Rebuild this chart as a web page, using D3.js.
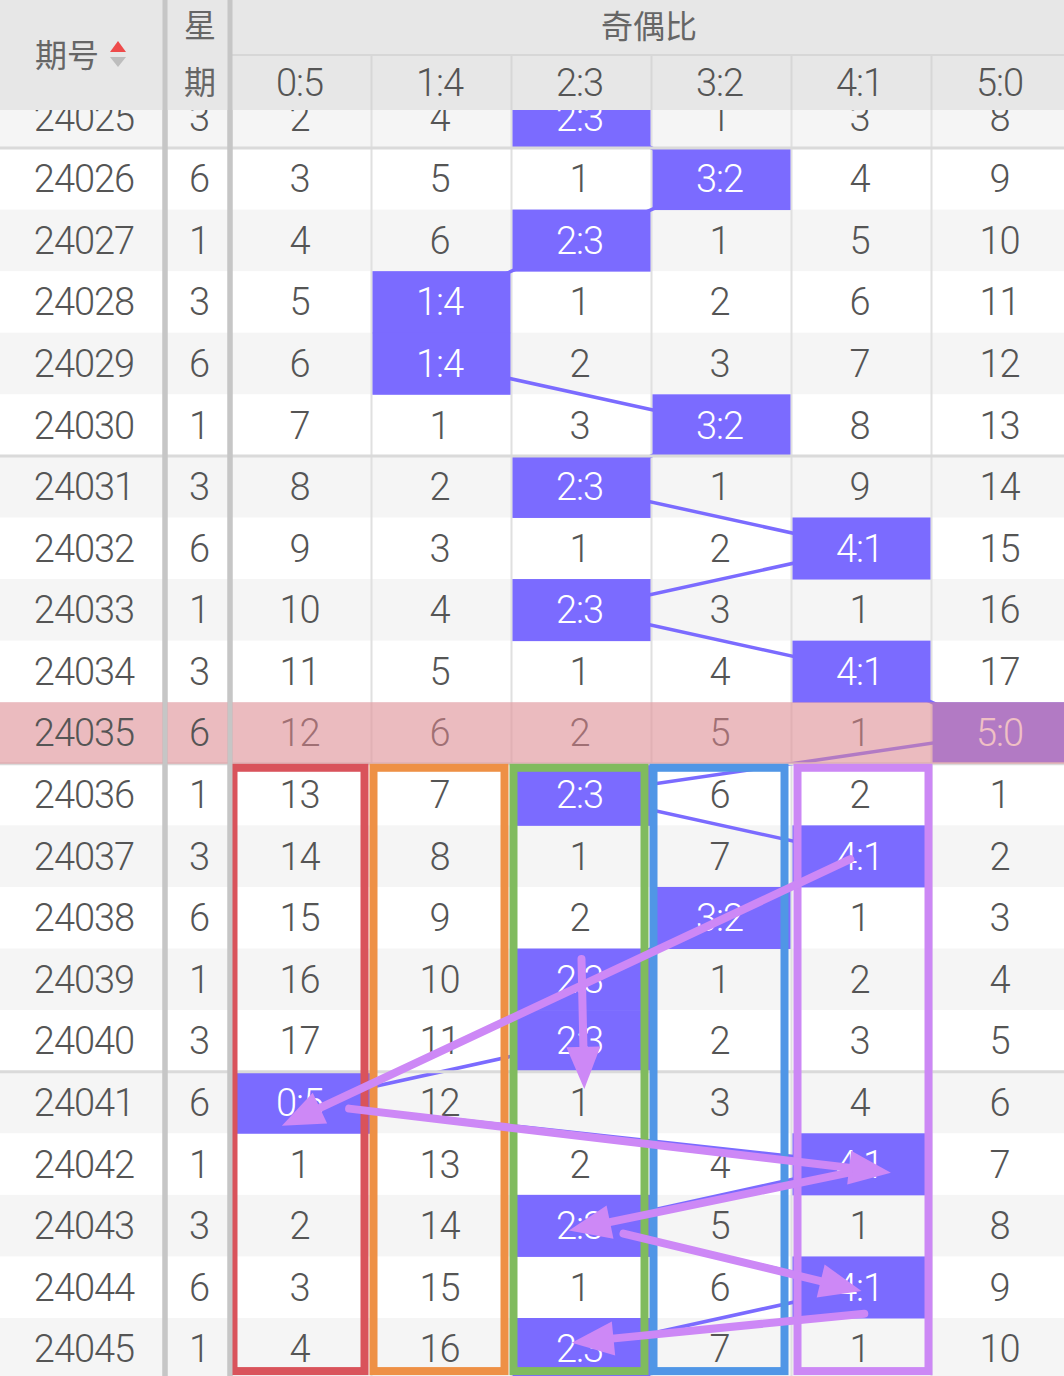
<!DOCTYPE html>
<html><head><meta charset="utf-8">
<script src="https://cdn.jsdelivr.net/npm/d3@7/dist/d3.min.js"></script>
<style>html,body{margin:0;padding:0;background:#fff;overflow:hidden}</style>
</head><body><svg id="c" width="1064" height="1376"></svg>
<script>
// ---------------- data ----------------
const issues   = [24025,24026,24027,24028,24029,24030,24031,24032,24033,24034,24035,24036,24037,24038,24039,24040,24041,24042,24043,24044,24045];
const weekdays = [3,6,1,3,6,1,3,6,1,3,6,1,3,6,1,3,6,1,3,6,1];
const ratios   = ["0:5","1:4","2:3","3:2","4:1","5:0"];
const hits     = ["2:3","3:2","2:3","1:4","1:4","3:2","2:3","4:1","2:3","4:1","5:0","2:3","4:1","3:2","2:3","2:3","0:5","4:1","2:3","4:1","2:3"];
const miss0_5  = [2,3,4,5,6,7,8,9,10,11,12,13,14,15,16,17,null,1,2,3,4];
const miss1_4  = [4,5,6,null,null,1,2,3,4,5,6,7,8,9,10,11,12,13,14,15,16];
const miss2_3  = [null,1,null,1,2,3,null,1,null,1,2,null,1,2,null,null,1,2,null,1,null];
const miss3_2  = [1,null,1,2,3,null,1,2,3,4,5,6,7,null,1,2,3,4,5,6,7];
const miss4_1  = [3,4,5,6,7,8,9,null,1,null,1,2,null,1,2,3,4,null,1,null,1];
const miss5_0  = [8,9,10,11,12,13,14,15,16,17,null,1,2,3,4,5,6,7,8,9,10];
const highlightIssue = 24035;
const boxColumns = ["0:5","1:4","2:3","3:2","4:1"];
const boxFrom = 24036, boxTo = 24045;
// annotation arrows: [ratio, issue, offsetX(frac of cell), offsetY(frac of cell)]
const arrowFrom = [["4:1",24037,-0.08,0.05],["2:3",24039,0,-0.33],["0:5",24041,0.34,0.10],["4:1",24042,-0.09,0.14],["2:3",24043,0.30,0.13],["4:1",24044,0.02,0.43]];
const arrowTo   = [["0:5",24041,-0.14,0.38],["2:3",24041,0.02,-0.22],["4:1",24042,0.21,0.14],["2:3",24043,-0.09,0.08],["4:1",24044,0.0,0.06],["2:3",24045,-0.07,-0.10]];

// ---------------- styles ----------------
const W = 1064, H = 1376, HEADER = 110;
const NUM_FONT = "Roboto, 'Noto Sans', sans-serif";
const NUM_WEIGHT = 300;
const CJK_FONT = "'Noto Sans CJK SC', 'Noto Sans', sans-serif";
const TEXT = "#555555";
const HIT = "#7b6bff";
const boxColors = ["#d9535b","#ee9045","#80bb5e","#5096e6","#cc88f5"];
const boxShift = [0,0,0,0,4];
const ARROW = "#cd88f6";

const svg = d3.select("#c");
svg.append("defs").append("clipPath").attr("id", "body")
  .append("rect").attr("x", 0).attr("y", HEADER).attr("width", W).attr("height", H - HEADER);
const body = svg.append("g").attr("clip-path", "url(#body)");
const missCols = [miss0_5, miss1_4, miss2_3, miss3_2, miss4_1, miss5_0];

const x = d3.scaleBand().domain(ratios).range([231.5, 1071.5]);
const y = d3.scaleBand().domain(issues).range([86.4, 86.4 + 61.58 * issues.length]);
const bw = x.bandwidth(), bh = y.bandwidth();
const cx = r => x(r) + bw / 2;
const cy = i => y(i) + bh / 2;

function numText(sel) {
  return sel.attr("text-anchor", "middle").attr("font-family", NUM_FONT)
    .attr("font-weight", NUM_WEIGHT).attr("font-size", 38).attr("letter-spacing", -1);
}

// row backgrounds
body.append("g").selectAll("rect").data(issues).join("rect")
  .attr("x", 0).attr("y", d => y(d)).attr("width", W).attr("height", bh + 0.5)
  .attr("fill", d => d % 2 ? "#f5f5f5" : "#ffffff");

// thin column lines
body.append("g").selectAll("line").data(ratios.slice(1)).join("line")
  .attr("x1", d => x(d)).attr("x2", d => x(d)).attr("y1", HEADER).attr("y2", H)
  .attr("stroke", "#e0e0e0").attr("stroke-width", 2);

// trend line
const pts = issues.map((d, i) => [cx(hits[i]), cy(d)]);
body.append("path").attr("d", d3.line()(pts)).attr("fill", "none")
  .attr("stroke", HIT).attr("stroke-width", 3.5);

// hit boxes
body.append("g").selectAll("rect").data(issues).join("rect")
  .attr("x", (d, i) => x(hits[i]) + 1).attr("y", d => y(d))
  .attr("width", bw - 2).attr("height", bh + 0.5).attr("fill", HIT);

// group lines every 5 issues
body.append("g").selectAll("line").data(issues.filter(d => (d - 24026) % 5 === 0)).join("line")
  .attr("x1", 0).attr("x2", W).attr("y1", d => y(d)).attr("y2", d => y(d))
  .attr("stroke", "#dadada").attr("stroke-width", 3);

// cell texts
const cells = [];
issues.forEach((d, i) => ratios.forEach((r, j) => {
  const v = missCols[j][i];
  cells.push({issue: d, ratio: r, text: v === null ? r : String(v), hit: v === null});
}));
body.append("g").selectAll("text").data(cells).join("text")
  .attr("x", d => cx(d.ratio) - 2).attr("y", d => cy(d.issue) + 13.5)
  .call(numText)
  .attr("fill", d => d.hit ? "#ffffff" : TEXT).text(d => d.text);

// thick dividers
function dividers(g) {
  g.append("g").selectAll("rect").data([162.5, 227.5]).join("rect")
    .attr("x", d => d).attr("y", 0).attr("width", 5).attr("height", H).attr("fill", "#c6c6c6");
}
dividers(body);

// highlight overlay row
body.append("rect").attr("x", 0).attr("y", y(highlightIssue)).attr("width", W).attr("height", bh)
  .attr("fill", "rgb(227,136,144)").attr("fill-opacity", 0.53);

// left columns text
body.append("g").selectAll("text").data(issues).join("text")
  .attr("x", 84).attr("y", d => cy(d) + 13.5).call(numText)
  .attr("fill", TEXT).text(d => d);
body.append("g").selectAll("text").data(issues).join("text")
  .attr("x", 199).attr("y", d => cy(d) + 13.5).call(numText)
  .attr("fill", TEXT).text((d, i) => weekdays[i]);

// annotation boxes
const yTop = y(boxFrom) + 4, yBot = y(boxTo) + bh - 8.5;
body.append("g").selectAll("rect").data(boxColumns).join("rect")
  .attr("x", (d, i) => x(d) + 2 + boxShift[i]).attr("y", yTop).attr("width", bw - 9).attr("height", yBot - yTop)
  .attr("fill", "none").attr("stroke", (d, i) => boxColors[i]).attr("stroke-width", 8);

// arrows
const pos = a => [cx(a[0]) + a[2] * bw, cy(a[1]) + a[3] * bh];
const ag = body.append("g");
arrowFrom.forEach((f, i) => {
  const [x1, y1] = pos(f), [x2, y2] = pos(arrowTo[i]);
  const len = Math.hypot(x2 - x1, y2 - y1), ux = (x2 - x1) / len, uy = (y2 - y1) / len;
  const hl = 42, hw = 17;
  const bx = x2 - ux * hl, by = y2 - uy * hl;
  ag.append("line").attr("x1", x1).attr("y1", y1).attr("x2", bx + ux * 4).attr("y2", by + uy * 4)
    .attr("stroke", ARROW).attr("stroke-width", 8).attr("stroke-linecap", "round");
  ag.append("path").attr("d", d3.line()([[x2, y2], [bx - uy * hw, by + ux * hw], [bx + uy * hw, by - ux * hw]]) + "Z")
    .attr("fill", ARROW);
});

// header
const hg = svg.append("g");
hg.append("rect").attr("x", 0).attr("y", 0).attr("width", W).attr("height", HEADER).attr("fill", "#e7e7e7");
hg.append("line").attr("x1", 232).attr("x2", W).attr("y1", 55).attr("y2", 55)
  .attr("stroke", "#d7d7d7").attr("stroke-width", 2);
hg.selectAll("line.v").data(ratios.slice(1)).join("line").attr("class", "v")
  .attr("x1", d => x(d)).attr("x2", d => x(d)).attr("y1", 55).attr("y2", HEADER)
  .attr("stroke", "#d7d7d7").attr("stroke-width", 2);
hg.selectAll("text.r").data(ratios).join("text").attr("class", "r")
  .attr("x", d => cx(d) - 2).attr("y", 95.5).call(numText)
  .attr("fill", TEXT).text(d => d);
const labels = [{t: "期号", x: 67, y: 67}, {t: "星", x: 200, y: 37}, {t: "期", x: 200, y: 94}, {t: "奇偶比", x: 649, y: 38}];
hg.selectAll("text.l").data(labels).join("text").attr("class", "l")
  .attr("x", d => d.x).attr("y", d => d.y).attr("text-anchor", "middle")
  .attr("font-family", CJK_FONT).attr("font-size", 32).attr("fill", "#666").text(d => d.t);
hg.append("path").attr("d", "M110,52L126,52L118,41Z").attr("fill", "#ee4b4b");
hg.append("path").attr("d", "M110,57L126,57L118,67Z").attr("fill", "#bdbdbd");
dividers(hg);
</script></body></html>
